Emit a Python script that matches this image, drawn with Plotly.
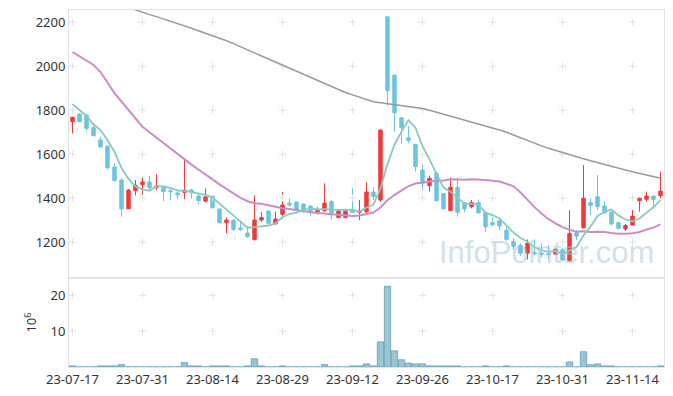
import plotly.graph_objects as go
from plotly.subplots import make_subplots
import pandas as pd

dates = [
    "2023-07-17","2023-07-18","2023-07-19","2023-07-20","2023-07-21","2023-07-24","2023-07-25","2023-07-26","2023-07-27","2023-07-28",
    "2023-07-31","2023-08-01","2023-08-02","2023-08-03","2023-08-04","2023-08-07","2023-08-08","2023-08-09","2023-08-10","2023-08-11",
    "2023-08-14","2023-08-16","2023-08-17","2023-08-18","2023-08-21","2023-08-22","2023-08-23","2023-08-24","2023-08-25","2023-08-28",
    "2023-08-29","2023-08-30","2023-08-31","2023-09-01","2023-09-04","2023-09-05","2023-09-06","2023-09-07","2023-09-08","2023-09-11",
    "2023-09-12","2023-09-13","2023-09-14","2023-09-15","2023-09-18","2023-09-19","2023-09-20","2023-09-21","2023-09-22","2023-09-25",
    "2023-09-26","2023-09-27","2023-10-04","2023-10-05","2023-10-06","2023-10-10","2023-10-11","2023-10-12","2023-10-13","2023-10-16",
    "2023-10-17","2023-10-18","2023-10-19","2023-10-20","2023-10-23","2023-10-24","2023-10-25","2023-10-26","2023-10-27","2023-10-30",
    "2023-10-31","2023-11-01","2023-11-02","2023-11-03","2023-11-06","2023-11-07","2023-11-08","2023-11-09","2023-11-10","2023-11-13",
    "2023-11-14","2023-11-15","2023-11-16","2023-11-17","2023-11-20",
]

open_ = [1747,1782,1777,1720,1664,1636,1541,1482,1351,1433,
         1461,1473,1447,1447,1433,1423,1426,1437,1409,1386,
         1409,1350,1288,1300,1264,1241,1212,1300,1341,1283,
         1326,1377,1382,1373,1364,1336,1342,1384,1311,1311,
         1348,1335,1338,1427,1391,2224,1959,1765,1674,1644,
         1527,1456,1513,1421,1343,1449,1379,1361,1379,1333,
         1288,1297,1254,1203,1185,1149,1152,1150,1147,1145,
         1164,1115,1243,1265,1379,1406,1364,1336,1288,1259,
         1277,1388,1395,1409,1411]
high = [1770,1785,1780,1733,1679,1638,1558,1490,1442,1482,
        1494,1500,1509,1450,1442,1439,1583,1442,1418,1444,
        1412,1352,1312,1302,1292,1270,1412,1336,1343,1338,
        1427,1398,1384,1375,1366,1358,1467,1391,1350,1352,
        1444,1391,1471,1449,1712,2224,1962,1768,1727,1646,
        1550,1502,1515,1423,1494,1494,1381,1391,1391,1336,
        1312,1300,1270,1217,1194,1212,1212,1194,1185,1172,
        1172,1345,1254,1550,1399,1505,1386,1340,1292,1282,
        1345,1402,1429,1412,1520]
low = [1694,1745,1705,1683,1628,1530,1477,1315,1350,1412,
       1415,1436,1436,1386,1391,1395,1395,1397,1371,1380,
       1352,1283,1240,1250,1251,1220,1206,1292,1283,1279,
       1306,1361,1341,1333,1318,1326,1336,1303,1309,1309,
       1332,1300,1330,1391,1383,1820,1700,1650,1649,1521,
       1436,1429,1385,1348,1340,1315,1335,1353,1330,1247,
       1270,1254,1206,1164,1136,1121,1141,1130,1125,1141,
       1115,1112,1209,1262,1323,1345,1327,1277,1258,1250,
       1275,1338,1383,1353,1399]
close = [1767,1747,1717,1683,1633,1538,1479,1351,1436,1458,
         1473,1447,1455,1429,1429,1415,1436,1426,1388,1405,
         1356,1288,1300,1258,1256,1224,1300,1311,1285,1305,
         1368,1368,1345,1345,1335,1347,1377,1333,1341,1341,
         1335,1341,1427,1406,1709,1888,1788,1720,1662,1542,
         1467,1490,1388,1351,1449,1335,1351,1380,1333,1270,
         1279,1273,1212,1180,1149,1194,1147,1145,1143,1167,
         1118,1239,1227,1399,1367,1361,1333,1282,1262,1275,
         1318,1399,1409,1394,1432]

# volume in millions of shares
volume = [0.3,0,0,0,0.3,0.3,0.3,0.65,0,0,
          0,0,0,0,0,0,1.2,0.3,0.3,0,
          0.3,0.3,0.3,0,0,0.3,2.3,0.3,0,0,
          0.3,0,0,0,0,0,0.65,0,0,0,
          0.3,0.3,0.85,0.3,7.0,22.5,4.5,2.0,1.1,0.85,
          0.85,0.3,0.3,0.3,0.3,0.3,0,0,0,0.3,
          0,0,0.3,0,0,0,0,0,0,0,
          0,1.4,0,4.25,0.6,0.85,0.3,0.3,0,0,
          0,0,0,0,0.3]

# moving-average values before a full window is available
ma5_head = [1827, 1800, 1773, 1735]
ma20_head = [2064,2045,2027,2005,1973,1927,1877,1839,1801,1763,
             1724,1699,1674,1649,1624,1598,1573,1552,1530]
# long moving average
ma60 = [2354,2344,2332,2321,2310,2299,2288,2276,2265,2254,
        2244,2234,2225,2215,2205,2195,2184,2172,2161,2150,
        2138,2127,2115,2102,2089,2075,2060,2046,2032,2019,
        2005,1990,1976,1962,1948,1934,1920,1905,1891,1880,
        1869,1858,1848,1838,1833,1829,1825,1820,1816,1812,
        1807,1799,1790,1782,1774,1765,1757,1748,1739,1729,
        1719,1709,1699,1686,1673,1660,1647,1637,1626,1616,
        1606,1597,1588,1579,1570,1561,1553,1545,1536,1528,
        1520,1513,1505,1497,1490]

tick_dates = ["2023-07-17","2023-07-31","2023-08-14","2023-08-29","2023-09-12",
              "2023-09-26","2023-10-17","2023-10-31","2023-11-14"]
tick_labels = ["23-07-17","23-07-31","23-08-14","23-08-29","23-09-12",
               "23-09-26","23-10-17","23-10-31","23-11-14"]
price_ticks = [1200, 1400, 1600, 1800, 2000, 2200]
vol_ticks = [10, 20]

cs = pd.Series(close, dtype=float)
ma5 = cs.rolling(5).mean().tolist()
ma5[:len(ma5_head)] = ma5_head
ma20 = cs.rolling(20).mean().tolist()
ma20[:len(ma20_head)] = ma20_head

RED = "#f03a3a"
CYAN = "#6cc4de"
FONT = "Noto Sans"
TXT = "#333333"
AX = "#e3e3e3"
GRIDMARK = "#e2e2e2"

fig = make_subplots(rows=2, cols=1, shared_xaxes=True, vertical_spacing=0,
                    row_heights=[0.751, 0.249])

# grid "+" marks
gx = [d for d in tick_dates for _ in price_ticks]
gy = [v for _ in tick_dates for v in price_ticks]
fig.add_trace(go.Scatter(x=gx, y=gy, mode="markers", hoverinfo="skip",
                         marker=dict(symbol="cross-thin", size=5,
                                     line=dict(color=GRIDMARK, width=1))),
              row=1, col=1)
gx2 = [d for d in tick_dates for _ in vol_ticks]
gy2 = [v for _ in tick_dates for v in vol_ticks]
fig.add_trace(go.Scatter(x=gx2, y=gy2, mode="markers", hoverinfo="skip",
                         marker=dict(symbol="cross-thin", size=5,
                                     line=dict(color=GRIDMARK, width=1))),
              row=2, col=1)

fig.add_trace(go.Candlestick(
    x=dates, open=open_, high=high, low=low, close=close,
    increasing=dict(line=dict(color=RED, width=1), fillcolor=RED),
    decreasing=dict(line=dict(color=CYAN, width=1), fillcolor=CYAN),
    whiskerwidth=0, hoverinfo="skip"), row=1, col=1)

fig.add_trace(go.Scatter(x=dates, y=ma60, mode="lines",
                         line=dict(color="#9a9a9a", width=1.5), hoverinfo="skip"), row=1, col=1)
fig.add_trace(go.Scatter(x=dates, y=ma20, mode="lines",
                         line=dict(color="#cc8cc6", width=2), hoverinfo="skip"), row=1, col=1)
fig.add_trace(go.Scatter(x=dates, y=ma5, mode="lines",
                         line=dict(color="#86cbbf", width=1.8), hoverinfo="skip"), row=1, col=1)

fig.add_trace(go.Bar(x=dates, y=volume, marker=dict(color="#9bc5d3",
                     line=dict(color="#74a8bd", width=1)), hoverinfo="skip"),
              row=2, col=1)

# the page body adds an 8px offset, so the figure is sized to fill the rest of the window
fig.update_layout(
    width=665, height=388,
    margin=dict(l=61, r=9, t=2, b=29),
    paper_bgcolor="white", plot_bgcolor="white",
    showlegend=False, bargap=0.1,
    font=dict(family=FONT, size=13, color=TXT),
    annotations=[dict(text="InfoPointer.com", xref="paper", yref="paper",
                      x=0.803, y=0.322, xanchor="center", yanchor="middle",
                      showarrow=False,
                      font=dict(family="Liberation Sans", size=31,
                                color="rgba(165,195,212,0.5)"))],
)

common_x = dict(type="category", categoryorder="array", categoryarray=dates,
                range=[-0.5, len(dates) - 0.5], showgrid=False, zeroline=False,
                showline=True, linecolor=AX, mirror=True, ticks="", automargin=False)
fig.update_xaxes(**common_x, rangeslider=dict(visible=False), showticklabels=False, row=1, col=1)
fig.update_xaxes(**common_x, tickmode="array", tickvals=tick_dates, ticktext=tick_labels,
                 tickfont=dict(size=13, color=TXT), row=2, col=1)

fig.update_yaxes(range=[1036, 2255], tickmode="array", tickvals=price_ticks,
                 showgrid=False, zeroline=False, showline=True, linecolor=AX,
                 mirror=True, ticks="", automargin=False,
                 tickfont=dict(size=13, color=TXT), row=1, col=1)
fig.update_yaxes(range=[0, 24.8], tickmode="array", tickvals=vol_ticks,
                 showgrid=False, zeroline=False, showline=True, linecolor=AX,
                 mirror=True, ticks="", automargin=False,
                 tickfont=dict(size=13, color=TXT),
                 title=dict(text="10<sup>6</sup>", font=dict(size=13, color=TXT), standoff=10),
                 row=2, col=1)

fig.write_html("out.html")
